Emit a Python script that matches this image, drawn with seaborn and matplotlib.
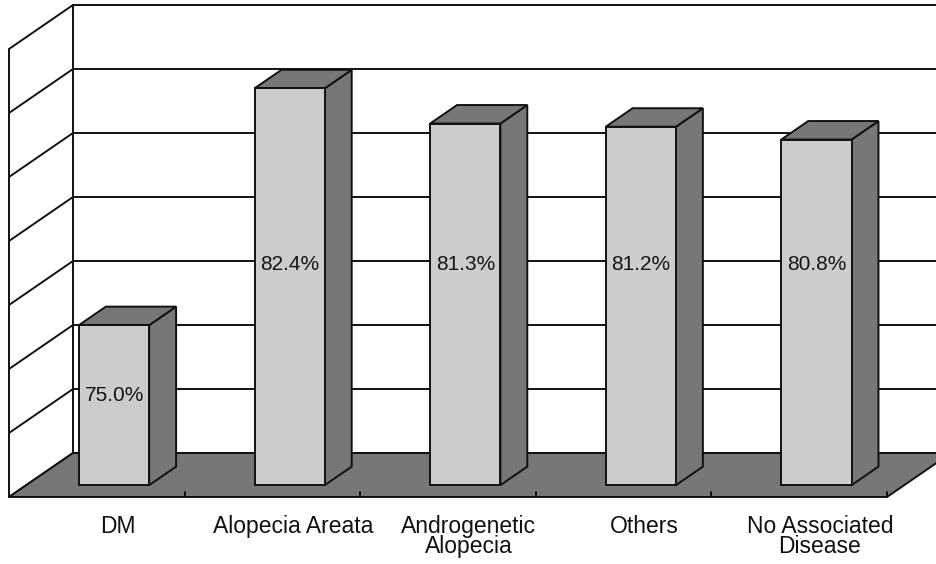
import matplotlib
matplotlib.use("Agg")
import matplotlib.pyplot as plt
from matplotlib.patches import Polygon
import pandas as pd
import seaborn as sns

# Share of patients per associated condition (percent)
categories = ["DM", "Alopecia Areata", "Androgenetic\nAlopecia", "Others",
              "No Associated\nDisease"]
rates = [75.0, 82.4, 81.3, 81.2, 80.8]
axis_levels = [70, 72, 74, 76, 78, 80, 82, 84]

BASE = axis_levels[0]
TOP = axis_levels[-1]

# Oblique projection of the box depth, in data units (x: categories, y: percent)
DEPTH_X, DEPTH_Y = 0.3645, 1.375
BAR_FRONT, BAR_BACK = 0.27, 0.69      # bar depth span as fraction of floor depth
LABEL_LEVEL = 77.25                   # common height of the in-bar value labels

FACE = "#cccccc"
SHADE = "#777777"
INK = "#111111"
LW = 1.4

sns.set_style("white")
plt.rcParams["font.family"] = ["Liberation Sans", "DejaVu Sans"]

fig = plt.figure(figsize=(9.37, 5.64), dpi=100)
ax = fig.add_axes([0, 0, 1, 1])

df = pd.DataFrame({"category": categories, "rate": rates})
sns.barplot(data=df, x="category", y="rate", width=0.4, color=FACE,
            saturation=1, edgecolor=INK, linewidth=LW, ax=ax, zorder=5)
bars = list(ax.patches)

# --- walls and floor -------------------------------------------------------
x_left = -0.5
x_right = len(categories) - 0.5

for lv in axis_levels:
    # back wall grid line
    ax.plot([x_left + DEPTH_X, x_right + DEPTH_X + 1], [lv + DEPTH_Y] * 2,
            color=INK, lw=LW, zorder=1, solid_capstyle="butt")
    # side wall diagonal
    ax.plot([x_left, x_left + DEPTH_X], [lv, lv + DEPTH_Y],
            color=INK, lw=LW, zorder=1)
ax.plot([x_left, x_left], [BASE, TOP], color=INK, lw=LW, zorder=1)
ax.plot([x_left + DEPTH_X] * 2, [BASE + DEPTH_Y, TOP + DEPTH_Y],
        color=INK, lw=LW, zorder=1)

floor = Polygon([(x_left, BASE), (x_right, BASE),
                 (x_right + DEPTH_X, BASE + DEPTH_Y),
                 (x_left + DEPTH_X, BASE + DEPTH_Y)],
                closed=True, facecolor=SHADE, edgecolor=INK, lw=LW, zorder=2)
ax.add_patch(floor)

for i in range(len(categories)):
    xt = i + 0.5
    ax.plot([xt, xt], [BASE, BASE + 0.17], color=INK, lw=LW, zorder=3)

# --- 3D columns ------------------------------------------------------------
fx, fy = BAR_FRONT * DEPTH_X, BAR_FRONT * DEPTH_Y
bx, by = (BAR_BACK - BAR_FRONT) * DEPTH_X, (BAR_BACK - BAR_FRONT) * DEPTH_Y

for bar in bars:
    h = bar.get_height()
    x0 = bar.get_x() + fx
    w = bar.get_width()
    bar.set_x(x0)
    bar.set_y(BASE + fy)
    bar.set_height(h - BASE)
    top = h + fy
    bottom = BASE + fy

    side = Polygon([(x0 + w, bottom), (x0 + w + bx, bottom + by),
                    (x0 + w + bx, top + by), (x0 + w, top)],
                   closed=True, facecolor=SHADE, edgecolor=INK, lw=LW,
                   joinstyle="miter", zorder=4)
    lid = Polygon([(x0, top), (x0 + w, top), (x0 + w + bx, top + by),
                   (x0 + bx, top + by)],
                  closed=True, facecolor=SHADE, edgecolor=INK, lw=LW,
                  joinstyle="miter", zorder=4)
    ax.add_patch(side)
    ax.add_patch(lid)

    # short columns get their label centred on the column, tall ones share a level
    centre = (bottom + top + by) / 2
    label_y = LABEL_LEVEL if top > LABEL_LEVEL + 1 else centre
    ax.text(x0 + w / 2, label_y, f"{h:.1f}%", ha="center", va="center",
            fontsize=15, color="#151515", zorder=6)

for i, name in enumerate(categories):
    ax.text(i + fx + 0.02, 69.45, name, ha="center", va="top", fontsize=16.5,
            linespacing=0.88, color="#111111", zorder=6)

ax.set_xlim(-0.5513, 4.7848)
ax.set_ylim(67.906, 85.531)
ax.set_axis_off()

fig.savefig("out.png", dpi=100)
